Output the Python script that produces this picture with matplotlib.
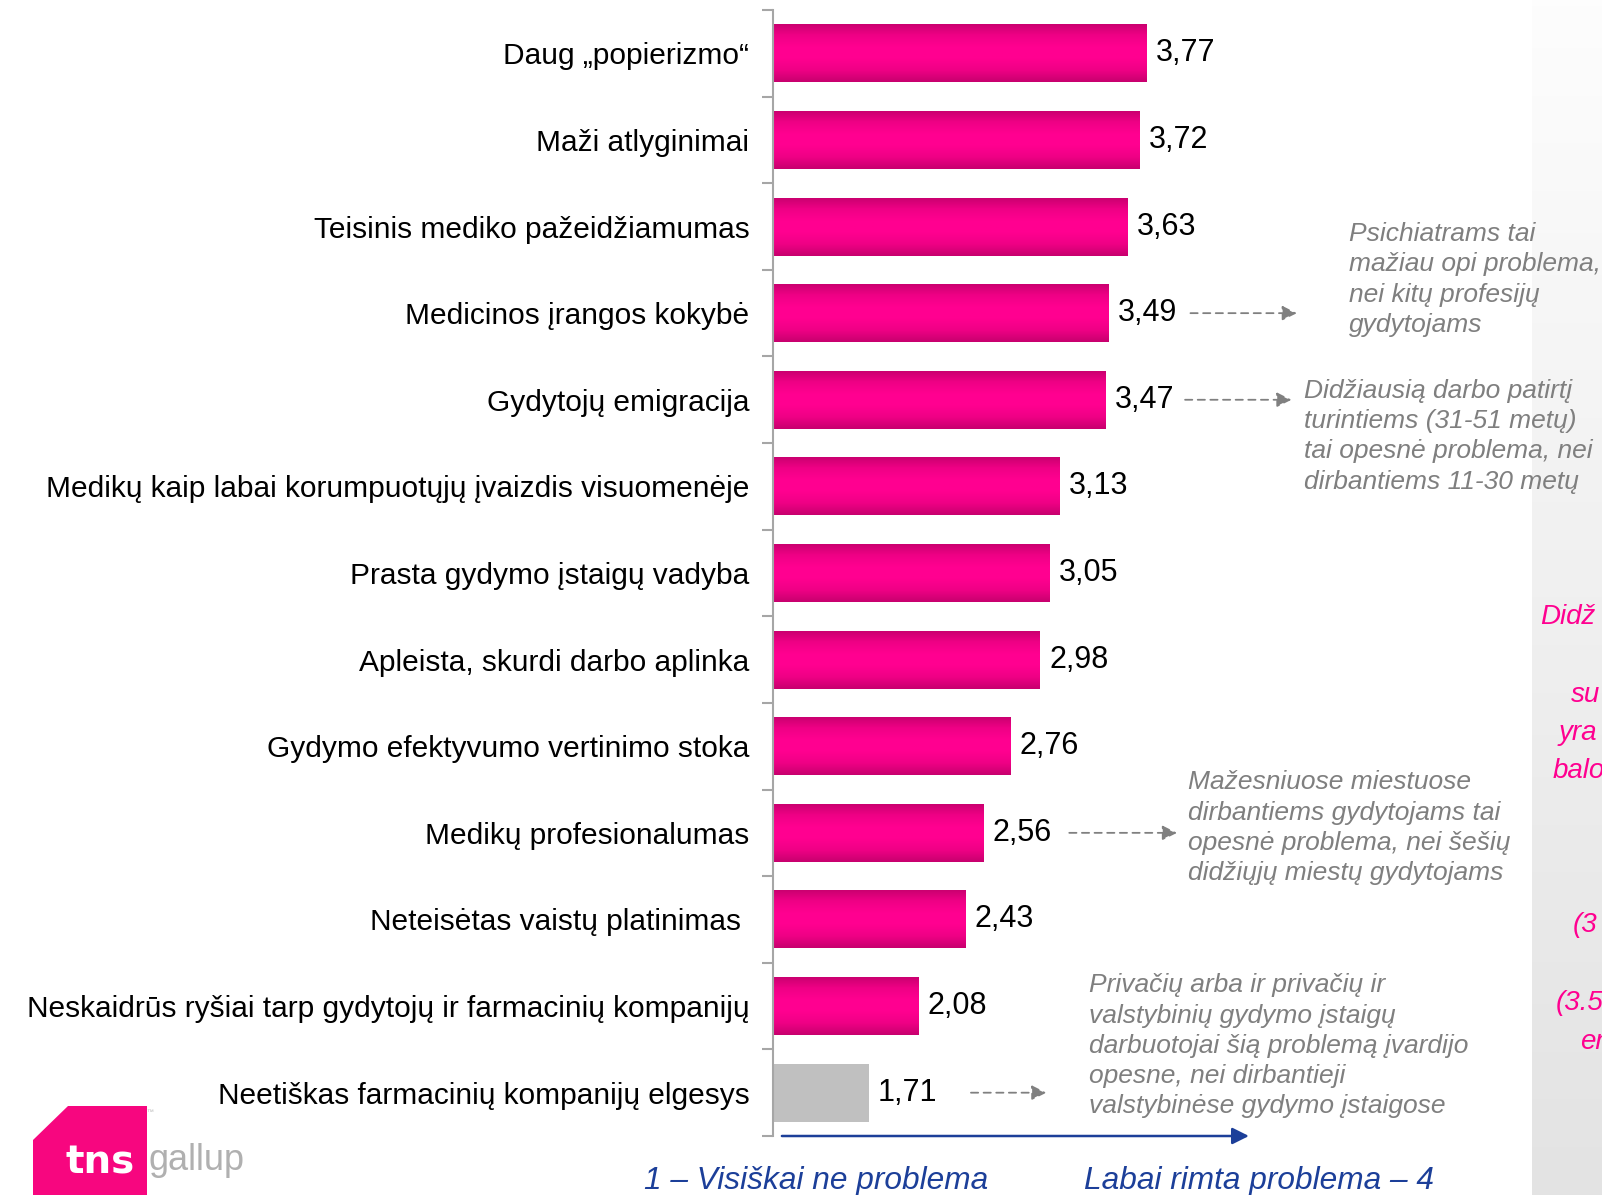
import numpy as np
import matplotlib
matplotlib.use("Agg")
import matplotlib.pyplot as plt
from matplotlib.colors import LinearSegmentedColormap
from matplotlib.patches import Polygon

plt.rcParams['font.family'] = ['Liberation Sans', 'DejaVu Sans']

# problemos ir vidutiniai balai (1-4)
categories = [
    'Daug „popierizmo“',
    'Maži atlyginimai',
    'Teisinis mediko pažeidžiamumas',
    'Medicinos įrangos kokybė',
    'Gydytojų emigracija',
    'Medikų kaip labai korumpuotųjų įvaizdis visuomenėje',
    'Prasta gydymo įstaigų vadyba',
    'Apleista, skurdi darbo aplinka',
    'Gydymo efektyvumo vertinimo stoka',
    'Medikų profesionalumas',
    'Neteisėtas vaistų platinimas ',
    'Neskaidrūs ryšiai tarp gydytojų ir farmacinių kompanijų',
    'Neetiškas farmacinių kompanijų elgesys',
]
scores = [3.77, 3.72, 3.63, 3.49, 3.47, 3.13, 3.05, 2.98, 2.76, 2.56, 2.43, 2.08, 1.71]
grey_bars = ['Neetiškas farmacinių kompanijų elgesys']

notes = [
    ('Medicinos įrangos kokybė',
     'Psichiatrams tai\nmažiau opi problema,\nnei kitų profesijų\ngydytojams'),
    ('Gydytojų emigracija',
     'Didžiausią darbo patirtį\nturintiems (31-51 metų)\ntai opesnė problema, nei\ndirbantiems 11-30 metų'),
    ('Medikų profesionalumas',
     'Mažesniuose miestuose\ndirbantiems gydytojams tai\nopesnė problema, nei šešių\ndidžiųjų miestų gydytojams'),
    ('Neetiškas farmacinių kompanijų elgesys',
     'Privačių arba ir privačių ir\nvalstybinių gydymo įstaigų\ndarbuotojai šią problemą įvardijo\nopesne, nei dirbantieji\nvalstybinėse gydymo įstaigose'),
]
# (rodyklės pradžia, pabaiga, teksto x, teksto y poslinkis) duomenų vienetais
note_layout = [
    (0.61, 4.89, 5.28, -0.39),
    (0.59, 4.85, 4.94, 0.42),
    (0.64, 4.00, 4.08, -0.06),
    (0.76, 3.03, 3.35, -0.54),
]

side_lines = [('Didž', 617, 1540), ('su', 695, 1571), ('yra', 733, 1559),
              ('balo', 771, 1553), ('(3', 925, 1573), ('(3.5', 1003, 1556),
              ('en', 1042, 1580)]

W, H = 1602, 1195
fig = plt.figure(figsize=(W / 100, H / 100), dpi=100)
fig.patch.set_facecolor('white')

# pilkas šoninis skydelis dešinėje
pax = fig.add_axes([1532 / W, 0, (W - 1532) / W, 1])
pax.imshow(np.linspace(0, 1, 200).reshape(-1, 1), aspect='auto',
           cmap=LinearSegmentedColormap.from_list('pn', ['#fdfdfd', '#e3e3e3']),
           extent=[0, 1, 0, 1], origin='upper')
pax.set_axis_off()
for txt, ypx, xpx in side_lines:
    fig.text(xpx / W, 1 - ypx / H, txt, color='#ff0090', fontsize=20,
             style='italic', ha='left', va='center')

ax = fig.add_axes([773 / W, 59 / H, 404 / W, 1126 / H])
ypos = np.arange(len(categories))
bar_h = 0.67

pink = LinearSegmentedColormap.from_list(
    'pink', ['#c8006e', '#ef0085', '#ff0090', '#ff0090', '#ef0085', '#c8006e'])
grad = np.linspace(0, 1, 100).reshape(-1, 1)

bars = ax.barh(ypos, [s - 1 for s in scores], left=1, height=bar_h,
               color='#ff0090', edgecolor='none')
for b, cat, s in zip(bars, categories, scores):
    if cat in grey_bars:
        b.set_facecolor('#c0c0c0')
    else:
        x0, y0 = b.get_x(), b.get_y()
        im = ax.imshow(grad, cmap=pink, aspect='auto', origin='lower',
                       extent=[x0, x0 + b.get_width(), y0, y0 + b.get_height()],
                       zorder=2)
        im.set_clip_path(b)
    ax.text(s + 0.07, b.get_y() + b.get_height() / 2, f'{s:.2f}'.replace('.', ','),
            fontsize=22, ha='left', va='center', color='black')

ax.set_xlim(1, 4)
ax.set_ylim(len(categories) - 0.5, -0.5)

ax.set_yticks(ypos)
ax.set_yticklabels(categories, fontsize=21.5)
ax.set_yticks(np.arange(len(categories) + 1) - 0.5, minor=True)
ax.tick_params(axis='y', which='major', length=0, pad=17)
ax.tick_params(axis='y', which='minor', length=8, width=1.5, color='#a6a6a6')
ax.set_xticks([])
for side in ['top', 'right', 'bottom']:
    ax.spines[side].set_visible(False)
ax.spines['left'].set_color('#a6a6a6')
ax.spines['left'].set_linewidth(1.5)
ax.patch.set_alpha(0)

# pastabos su punktyrinėmis rodyklėmis
for (cat, note), (a0, a1, tx, dy) in zip(notes, note_layout):
    i = categories.index(cat)
    s = scores[i]
    ax.annotate('', xy=(a1, i), xytext=(s + a0, i), annotation_clip=False,
                arrowprops=dict(arrowstyle='-|>', color='#808080', lw=1.3,
                                linestyle=(0, (4, 3)), mutation_scale=22,
                                shrinkA=0, shrinkB=0))
    ax.text(tx, i + dy, note, fontsize=19, style='italic', color='#7f7f7f',
            ha='left', va='center', linespacing=1.33, clip_on=False)

# skalės rodyklė
ax.annotate('', xy=(1.178, 0.0), xytext=(0.022, 0.0), xycoords='axes fraction',
            annotation_clip=False,
            arrowprops=dict(arrowstyle='-|>', color='#1c3f99', lw=1.8,
                            mutation_scale=25, shrinkA=0, shrinkB=0))
fig.text(816 / W, 1 - 1181 / H, '1 – Visiškai ne problema', color='#1c3f99',
         fontsize=22.8, style='italic', ha='center', va='center')
fig.text(1259 / W, 1 - 1181 / H, 'Labai rimta problema – 4', color='#1c3f99',
         fontsize=22.8, style='italic', ha='center', va='center')

# tns gallup logotipas
logo = [(33, 1140), (68, 1106), (147, 1106), (147, 1195), (33, 1195)]
fig.patches.append(Polygon([(x / W, 1 - y / H) for x, y in logo], closed=True,
                           transform=fig.transFigure, facecolor='#f7067f',
                           edgecolor='none'))
fig.text(100 / W, 1 - 1163 / H, 'tns', family='DejaVu Sans', weight='bold',
         fontsize=28, color='white', ha='center', va='center')
fig.text(148 / W, 1 - 1170 / H, 'gallup', family=['Liberation Sans Narrow', 'Liberation Sans'],
         fontsize=26, color='#b0b0b0', ha='left', va='baseline')
fig.text(150 / W, 1 - 1113 / H, '™', fontsize=5, color='#bbbbbb', ha='center', va='center')

fig.savefig('out.png', dpi=100)
